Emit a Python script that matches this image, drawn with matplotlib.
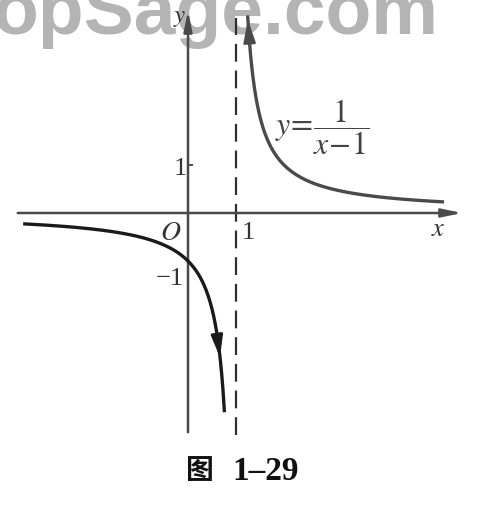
import numpy as np
import matplotlib.pyplot as plt

plt.rcParams['mathtext.fontset'] = 'stix'

# curve y = 1/(x-1), drawn on both branches
left_x = np.linspace(-3.4, 0.757, 300)
right_x = np.linspace(1.245, 5.3, 300)
left_y = 1 / (left_x - 1)
right_y = 1 / (right_x - 1)

x_ticks = [1]
y_ticks = [1, -1]
title_num = "1\u201329"

# one unit = 48 px, origin at pixel (188, 213)
U = 48.0
ox, oy = 188, 213
W, H = 479, 508

fig = plt.figure(figsize=(W / 100, H / 100), dpi=100)
ax = fig.add_axes([0, 0, 1, 1])
ax.set_xlim(-ox / U, (W - ox) / U)
ax.set_ylim(-(H - oy) / U, oy / U)
ax.axis('off')

def px(x, y):
    return ((x - ox) / U, (oy - y) / U)

# watermark
ax.text(*px(-8, 34), "opSage.com", fontsize=54, fontweight='bold',
        family='Liberation Sans', color='#b4b4b4', zorder=0)

axis_col = '#4a4a4a'
# x axis
ax.annotate("", xy=px(465, 213), xytext=px(15, 213),
            arrowprops=dict(arrowstyle='-|>,head_length=1.2,head_width=0.25',
                            color=axis_col, lw=1.8), zorder=3)
# y axis
ax.annotate("", xy=px(188, 8), xytext=px(188, 435),
            arrowprops=dict(arrowstyle='-|>,head_length=1.2,head_width=0.25',
                            color=axis_col, lw=1.8), zorder=3)

# asymptote x = 1
ax.plot([1, 1], [px(0, 435)[1], px(0, 18)[1]], color='#303030', lw=1.6,
        dashes=(8, 4), zorder=2)

# y tick at 1
ax.plot([0, 4 / U], [1, 1], color=axis_col, lw=1.4)

# curves
ax.plot(right_x, right_y, color='#4a4a4a', lw=2.4, zorder=4)
ax.annotate("", xy=(right_x[0], right_y[0]), xytext=(right_x[3], right_y[3]),
            arrowprops=dict(arrowstyle='-|>,head_length=1.3,head_width=0.35',
                            color='#4a4a4a', lw=2.0), zorder=5)
ax.plot(left_x, left_y, color='#1a1a1a', lw=2.4, zorder=4)
i = np.searchsorted(left_x, 0.66)
ax.annotate("", xy=(left_x[i], left_y[i]), xytext=(left_x[i - 6], left_y[i - 6]),
            arrowprops=dict(arrowstyle='-|>,head_length=1.3,head_width=0.35',
                            color='#1a1a1a', lw=2.0), zorder=5)

# labels
ax.text(*px(180, 17), "$y$", fontsize=18, ha='center', va='center', color='#333333')
ax.text(*px(438, 229), "$x$", fontsize=19, ha='center', va='center', color='#333333')
ax.text(*px(171, 232), "$O$", fontsize=20, ha='center', va='center', color='#333333')
for t in x_ticks:
    ax.text(t + 12 / U, px(0, 233)[1], str(t), fontsize=19, family='Liberation Serif',
            ha='center', va='center', color='#333333')
ax.text(*px(180, 169), str(y_ticks[0]), fontsize=19, family='Liberation Serif',
        ha='center', va='center', color='#333333')
ax.text(*px(170, 279), "\u2212" + str(abs(y_ticks[1])), fontsize=19,
        family='Liberation Serif', ha='center', va='center', color='#333333')
ax.text(*px(322, 127), r"$y\!=\!\dfrac{1}{x\!-\!1}$", fontsize=23,
        ha='center', va='center', color='#444444')

# caption
ax.text(*px(200, 471), "图", fontsize=20, fontweight='bold', family='Noto Sans CJK SC',
        ha='center', va='center', color='#111111')
ax.text(*px(266, 471), title_num, fontsize=24, fontweight='bold',
        family='Liberation Serif', ha='center', va='center', color='#111111')

fig.savefig("out.png", dpi=100)
